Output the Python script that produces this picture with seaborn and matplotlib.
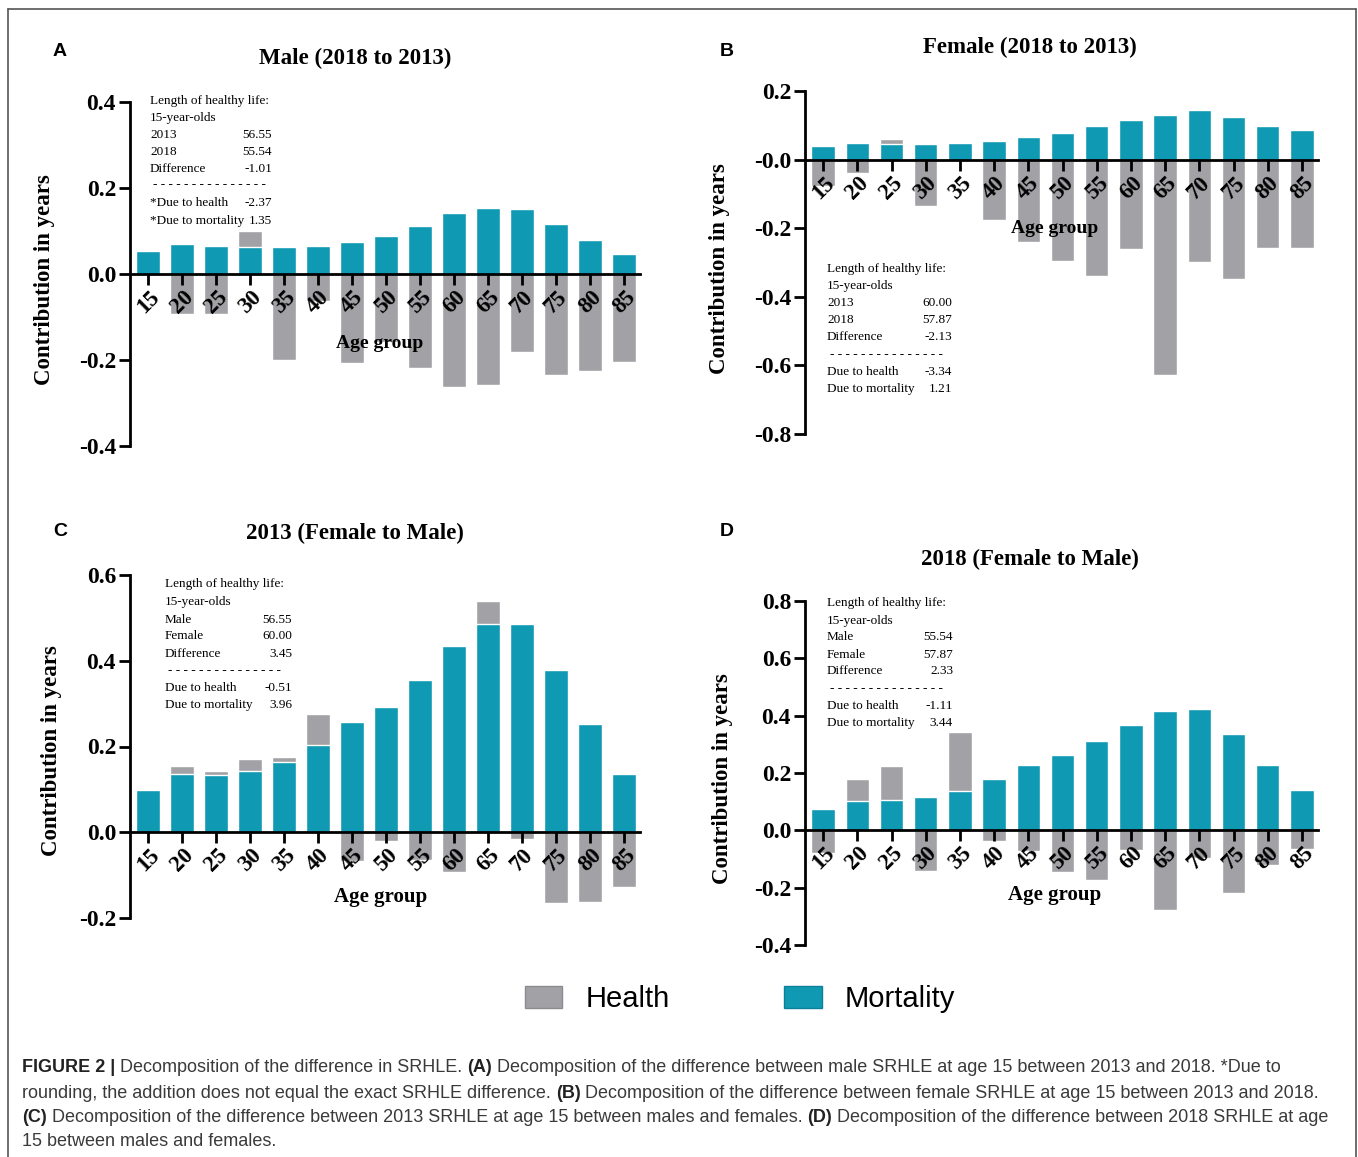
import numpy as np
import matplotlib
matplotlib.use("Agg")
import matplotlib.pyplot as plt
import seaborn as sns
from matplotlib.patches import Patch
from matplotlib.lines import Line2D

# ---- data ----
ages = ["15", "20", "25", "30", "35", "40", "45", "50", "55", "60", "65", "70", "75", "80", "85"]

# A: Male (2018 to 2013)
male_mort = [0.054, 0.070, 0.064, 0.062, 0.062, 0.064, 0.074, 0.089, 0.112, 0.142, 0.153, 0.151, 0.116, 0.078, 0.047]
male_health = [0.0, -0.094, -0.094, 0.039, -0.200, -0.063, -0.208, -0.158, -0.219, -0.263, -0.258, -0.182, -0.236, -0.226, -0.204]

# B: Female (2018 to 2013)
female_mort = [0.039, 0.048, 0.046, 0.046, 0.048, 0.053, 0.065, 0.079, 0.097, 0.116, 0.131, 0.145, 0.123, 0.097, 0.087]
female_health = [-0.076, -0.039, 0.015, -0.134, 0.0, -0.177, -0.240, -0.296, -0.338, -0.260, -0.628, -0.298, -0.347, -0.257, -0.257]

# C: 2013 (Female to Male)
y2013_mort = [0.099, 0.136, 0.134, 0.144, 0.165, 0.204, 0.257, 0.291, 0.355, 0.434, 0.486, 0.486, 0.379, 0.252, 0.136]
y2013_health = [0.0, 0.019, 0.010, 0.027, 0.010, 0.072, -0.066, -0.020, -0.065, -0.092, 0.054, -0.016, -0.164, -0.162, -0.127]

# D: 2018 (Female to Male)
y2018_mort = [0.075, 0.104, 0.107, 0.115, 0.136, 0.179, 0.229, 0.262, 0.310, 0.369, 0.416, 0.424, 0.337, 0.229, 0.139]
y2018_health = [-0.079, 0.076, 0.117, -0.143, 0.208, -0.038, -0.073, -0.146, -0.175, -0.070, -0.277, -0.097, -0.219, -0.120, -0.064]

# tick labels
ticks_a = [0.4, 0.2, 0.0, -0.2, -0.4]
labels_a = ["0.4", "0.2", "0.0", "-0.2", "-0.4"]
ticks_b = [0.2, 0.0, -0.2, -0.4, -0.6, -0.8]
labels_b = ["0.2", "-0.0", "-0.2", "-0.4", "-0.6", "-0.8"]
ticks_c = [0.6, 0.4, 0.2, 0.0, -0.2]
labels_c = ["0.6", "0.4", "0.2", "0.0", "-0.2"]
ticks_d = [0.8, 0.6, 0.4, 0.2, 0.0, -0.2, -0.4]
labels_d = ["0.8", "0.6", "0.4", "0.2", "0.0", "-0.2", "-0.4"]

# annotation boxes
notes_a = [("Length of healthy life:", ""), ("15-year-olds", ""), ("2013", "56.55"), ("2018", "55.54"),
           ("Difference", "-1.01"), None, ("*Due to health", "-2.37"), ("*Due to mortality", "1.35")]
notes_b = [("Length of healthy life:", ""), ("15-year-olds", ""), ("2013", "60.00"), ("2018", "57.87"),
           ("Difference", "-2.13"), None, ("Due to health", "-3.34"), ("Due to mortality", "1.21")]
notes_c = [("Length of healthy life:", ""), ("15-year-olds", ""), ("Male", "56.55"), ("Female", "60.00"),
           ("Difference", "3.45"), None, ("Due to health", "-0.51"), ("Due to mortality", "3.96")]
notes_d = [("Length of healthy life:", ""), ("15-year-olds", ""), ("Male", "55.54"), ("Female", "57.87"),
           ("Difference", "2.33"), None, ("Due to health", "-1.11"), ("Due to mortality", "3.44")]

GREY = "#a2a2a6"
TEAL = "#0f99b3"

sns.set_style("ticks")
plt.rcParams["font.family"] = ["Liberation Serif", "DejaVu Serif"]
plt.rcParams["axes.unicode_minus"] = False
plt.rcParams["text.color"] = "black"
plt.rcParams["axes.labelcolor"] = "black"
plt.rcParams["xtick.color"] = "black"
plt.rcParams["ytick.color"] = "black"

W, H = 1358, 1157
fig = plt.figure(figsize=(W / 100, H / 100), dpi=100)


def fx(px):
    return px / W


def fy(py):
    return 1 - py / H


def draw_panel(left, top, right, bottom, mort, health, ylim, yticks, ylabels, ylab_xy, agegrp_xy, agegrp_size):
    ax = fig.add_axes([fx(left), fy(bottom), (right - left) / W, (bottom - top) / H])
    m = np.array(mort)
    h = np.array(health)
    h_top = np.where(h > 0, m + h, h)  # positive health stacks on top of mortality
    sns.barplot(x=ages, y=h_top, color=GREY, width=0.68, saturation=1, ax=ax)
    sns.barplot(x=ages, y=m, color=TEAL, width=0.68, saturation=1, ax=ax)
    ax.set_axisbelow(False)  # axis line, ticks and labels over the bars
    ax.set_xlim(-0.53, 14.47)
    ax.set_ylim(*ylim)
    ax.spines[["top", "right"]].set_visible(False)
    ax.spines["bottom"].set_position(("data", 0))
    for s in ("left", "bottom"):
        ax.spines[s].set_linewidth(2.0)
        ax.spines[s].set_color("black")
    ax.tick_params(axis="both", direction="out", length=8, width=2.0, color="black", labelcolor="black")
    ax.set_yticks(yticks)
    ax.set_yticklabels(ylabels, fontsize=17, fontweight="bold")
    ax.set_xticks(range(len(ages)))
    ax.set_xticklabels(ages, rotation=45, ha="center", fontsize=16.5, fontweight="bold")
    ax.tick_params(axis="x", pad=1)
    ax.tick_params(axis="y", pad=2)
    ax.set_xlabel("")
    ax.set_ylabel("Contribution in years", fontsize=16.5, fontweight="bold", color="black")
    ax.yaxis.set_label_coords(*ylab_xy)
    ax.text(agegrp_xy[0], agegrp_xy[1], "Age group", transform=ax.transAxes, ha="center", va="center",
            fontsize=agegrp_size, fontweight="bold", zorder=5, color="black")
    return ax


def draw_notes(notes, x0, xval, ys):
    for row, y in zip(notes, ys):
        if row is None:
            fig.text(fx(x0 + 3), fy(y), "- - - - - - - - - - - - - - -", fontsize=9.5, ha="left", va="center")
            continue
        fig.text(fx(x0), fy(y), row[0], fontsize=9.5, ha="left", va="center")
        if row[1]:
            fig.text(fx(xval), fy(y), row[1], fontsize=9.5, ha="right", va="center")


draw_panel(130, 102, 640, 446, male_mort, male_health, (-0.4, 0.4), ticks_a, labels_a,
           (-0.147, 0.483), (0.49, 0.297), 14)
draw_panel(805, 91, 1318, 434, female_mort, female_health, (-0.8, 0.2), ticks_b, labels_b,
           (-0.146, 0.481), (0.487, 0.598), 14)
draw_panel(130, 575, 640, 918, y2013_mort, y2013_health, (-0.2, 0.6), ticks_c, labels_c,
           (-0.133, 0.487), (0.492, 0.061), 15)
draw_panel(805, 601, 1318, 945, y2018_mort, y2018_health, (-0.4, 0.8), ticks_d, labels_d,
           (-0.140, 0.483), (0.487, 0.145), 15)

draw_notes(notes_a, 150, 272, [101, 118, 135, 152, 169, 185, 203, 221])
draw_notes(notes_b, 827, 952, [269, 286, 303, 320, 337, 355, 372, 389])
draw_notes(notes_c, 165, 292, [584, 602, 620, 636, 654, 671, 688, 705])
draw_notes(notes_d, 827, 953, [603, 621, 637, 655, 671, 689, 706, 723])

# titles and panel letters
titles = [("Male (2018 to 2013)", 355, 58), ("Female (2018 to 2013)", 1030, 47),
          ("2013 (Female to Male)", 355, 533), ("2018 (Female to Male)", 1030, 559)]
for t, x, y in titles:
    fig.text(fx(x), fy(y), t, fontsize=16.5, fontweight="bold", ha="center", va="center")
for letter, x, y in [("A", 60, 52), ("B", 727, 52), ("C", 60, 532), ("D", 727, 532)]:
    fig.text(fx(x), fy(y), letter, fontsize=14, fontweight="bold", ha="center", va="center",
             family=["Liberation Sans", "DejaVu Sans"])

# legend
sans = ["Liberation Sans", "DejaVu Sans"]
handles = [Patch(facecolor=GREY, edgecolor="#8c8c90", label="Health"),
           Patch(facecolor=TEAL, edgecolor="#0b8199", label="Mortality")]
fig.legend(handles=handles, loc="center", bbox_to_anchor=(fx(740), fy(999)), ncol=2, frameon=False,
           prop={"family": sans, "size": 21}, handlelength=1.3, handleheight=0.75,
           handletextpad=0.8, columnspacing=3.9, labelcolor="black")

# caption
caption = [
    (1068, [("FIGURE 2 |", True), (" Decomposition of the difference in SRHLE. ", False), ("(A)", True),
            (" Decomposition of the difference between male SRHLE at age 15 between 2013 and 2018. *Due to", False)]),
    (1093, [("rounding, the addition does not equal the exact SRHLE difference. ", False), ("(B)", True),
            (" Decomposition of the difference between female SRHLE at age 15 between 2013 and 2018.", False)]),
    (1118, [("(C)", True), (" Decomposition of the difference between 2013 SRHLE at age 15 between males and females. ", False),
            ("(D)", True), (" Decomposition of the difference between 2018 SRHLE at age", False)]),
    (1142, [("15 between males and females.", False)]),
]
renderer = fig.canvas.get_renderer()
for y, runs in caption:
    x = 22
    for txt, bold in runs:
        t = fig.text(fx(x), fy(y), txt, fontsize=13, fontweight="bold" if bold else "normal",
                     ha="left", va="center", family=sans, color="#3a3a3a" if not bold else "#222222")
        x += t.get_window_extent(renderer=renderer).width

# outer frame
for (x0, y0, x1, y1) in [(8, 9, 1356, 9), (8, 9, 8, 1157), (1356, 9, 1356, 1157)]:
    fig.add_artist(Line2D([fx(x0), fx(x1)], [fy(y0), fy(y1)], color="#555555", linewidth=1.2))

fig.savefig("out.png", dpi=100)
